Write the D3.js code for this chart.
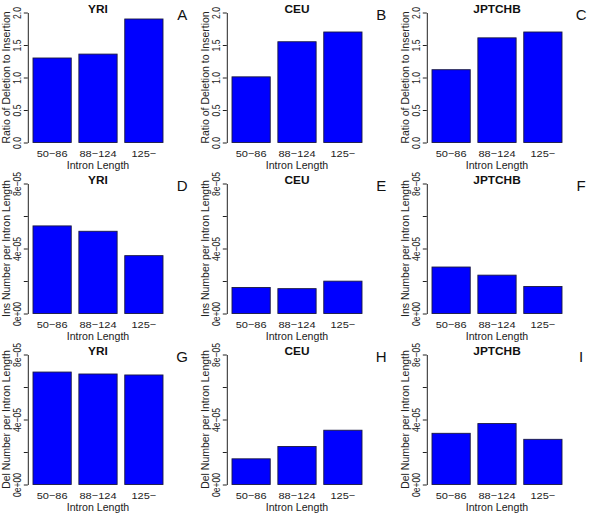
<!DOCTYPE html>
<html>
<head>
<meta charset="utf-8">
<script src="https://cdn.jsdelivr.net/npm/d3@7"></script>
<style>
  body { margin: 0; background: #fff; }
  svg { display: block; font-family: "Liberation Sans", Arial, sans-serif; }
</style>
</head>
<body>
<div id="chart"></div>
<script>
// ---- data ----
var categories = ["50\u221286", "88\u2212124", "125\u2212"];
var populations = ["YRI", "CEU", "JPTCHB"];
var panelLetters = ["A", "B", "C", "D", "E", "F", "G", "H", "I"];
var yLabels = ["Ratio of Deletion to Insertion", "Ins Number per Intron Length", "Del Number per Intron Length"];

var ratioValues = [[1.30, 1.36, 1.90], [1.01, 1.55, 1.70], [1.12, 1.61, 1.70]];
var insValues = [[5.39e-5, 5.06e-5, 3.56e-5], [1.60e-5, 1.53e-5, 1.99e-5], [2.86e-5, 2.36e-5, 1.66e-5]];
var delValues = [[6.92e-5, 6.80e-5, 6.74e-5], [1.58e-5, 2.34e-5, 3.34e-5], [3.15e-5, 3.75e-5, 2.78e-5]];

var ratioTicks = [0, 0.5, 1, 1.5, 2];
var ratioTickLabels = ["0.0", "0.5", "1.0", "1.5", "2.0"];
var rateTicks = [0, 2e-5, 4e-5, 6e-5, 8e-5];
var rateTickLabels = ["0e+00", "", "4e\u221205", "", "8e\u221205"];

var rows = [
  { values: ratioValues, ticks: ratioTicks, labels: ratioTickLabels, max: 2 },
  { values: insValues, ticks: rateTicks, labels: rateTickLabels, max: 8e-5 },
  { values: delValues, ticks: rateTicks, labels: rateTickLabels, max: 8e-5 }
];

// ---- layout ----
var W = 591, H = 515;
var colBarStart = [33, 232, 432];   // left edge of first bar
var barSpan = 130;                  // first bar left to last bar right
var rowTop = [12.5, 183.5, 354.5];  // y of axis max
var plotH = 130;
var ink = "#222";

var svg = d3.select("#chart").append("svg")
    .attr("width", W)
    .attr("height", H);

rows.forEach(function (row, r) {
    populations.forEach(function (pop, c) {
        var x = d3.scaleBand()
            .domain(categories)
            .range([colBarStart[c], colBarStart[c] + barSpan])
            .paddingInner(0.2 / 1.2)
            .paddingOuter(0);
        var unit = x.bandwidth();
        var axisX = colBarStart[c] - 0.136 * unit;
        var plotRight = axisX + 3.672 * unit;
        var midX = (axisX + plotRight) / 2;

        var y = d3.scaleLinear()
            .domain([0, row.max])
            .range([rowTop[r] + plotH, rowTop[r]]);

        var g = svg.append("g");
        var data = categories.map(function (k, i) { return { cat: k, v: row.values[c][i] }; });

        // bars
        g.selectAll("rect.bar")
            .data(data)
            .enter().append("rect")
            .attr("class", "bar")
            .attr("x", function (d) { return x(d.cat); })
            .attr("y", function (d) { return y(d.v); })
            .attr("width", x.bandwidth())
            .attr("height", function (d) { return y(0) - y(d.v); })
            .attr("fill", "#0000ff")
            .attr("stroke", "#1a1a40")
            .attr("stroke-width", 0.9);

        // y axis
        var yAxis = d3.axisLeft(y)
            .tickValues(row.ticks)
            .tickSize(4)
            .tickSizeOuter(0)
            .tickFormat(function (d, i) { return row.labels[i]; });

        var ax = g.append("g")
            .attr("transform", "translate(" + axisX + ",0)")
            .call(yAxis);
        ax.select(".domain").attr("stroke", ink);
        ax.selectAll(".tick line").attr("stroke", ink);
        ax.selectAll(".tick text")
            .attr("x", null)
            .attr("dy", "0.35em")
            .attr("text-anchor", "middle")
            .attr("fill", ink)
            .style("font-size", "8.5px")
            .attr("transform", "translate(-10.5,0) rotate(-90) scale(1,1.25)");

        // x tick labels
        g.selectAll("text.xtick")
            .data(categories)
            .enter().append("text")
            .attr("class", "xtick")
            .attr("text-anchor", "middle")
            .attr("fill", ink)
            .style("font-size", "9.5px")
            .attr("transform", function (d) {
                return "translate(" + (x(d) + x.bandwidth() / 2) + "," + (y(0) + 14.5) + ") scale(1.16,1)";
            })
            .text(function (d) { return d; });

        // x axis label
        g.append("text")
            .attr("text-anchor", "middle")
            .attr("fill", ink)
            .style("font-size", "10px")
            .attr("transform", "translate(" + midX + "," + (y(0) + 26) + ") scale(1.06,1)")
            .text("Intron Length");

        // y axis label
        g.append("text")
            .attr("text-anchor", "middle")
            .attr("fill", ink)
            .style("font-size", "10.5px")
            .attr("dy", "0.35em")
            .attr("transform", "translate(" + (axisX - 21.5) + "," + (rowTop[r] + plotH / 2) + ") rotate(-90) scale(1,1.1)")
            .text(yLabels[r]);

        // title
        g.append("text")
            .attr("text-anchor", "middle")
            .attr("fill", "#111")
            .style("font-size", "10.5px")
            .style("font-weight", "bold")
            .attr("transform", "translate(" + midX + "," + rowTop[r] + ") scale(1.13,1)")
            .text(pop);

        // panel letter
        g.append("text")
            .attr("x", plotRight + 14)
            .attr("y", rowTop[r] + 7)
            .attr("text-anchor", "middle")
            .attr("fill", "#111")
            .style("font-size", "15px")
            .text(panelLetters[r * 3 + c]);
    });
});
</script>
</body>
</html>
